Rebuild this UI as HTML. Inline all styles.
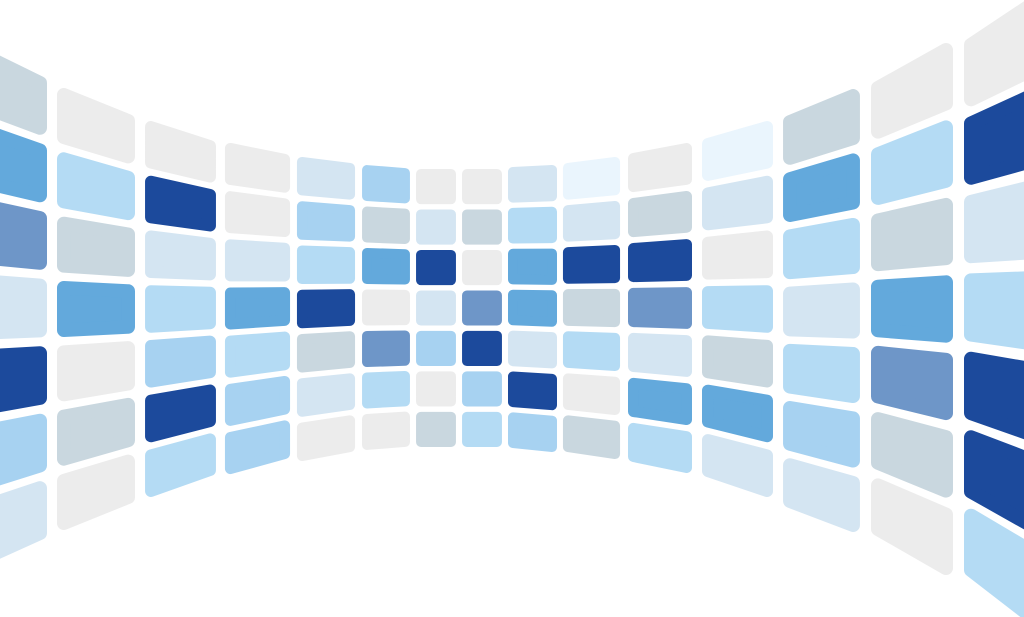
<!DOCTYPE html>
<html><head><meta charset="utf-8"><style>html,body{margin:0;padding:0;background:#fff;width:1024px;height:617px;overflow:hidden}</style></head>
<body>
<svg id="wall" width="1024" height="617" viewBox="0 0 1024 617" xmlns="http://www.w3.org/2000/svg"></svg>
<script>
// colour level per tile: columns left→right, rows top→bottom
const palette = ["#ececec","#c9d7df","#d4e5f2","#b4dbf4","#a7d2f1","#63a9dc","#6e96c8","#1c4a9c","#eaf5fd"];
const col0 = [1,5,6,2,7,4,2];
const col1 = [0,3,1,5,0,1,0];
const col2 = [0,7,2,3,4,7,3];
const col3 = [0,0,2,5,3,4,4];
const col4 = [2,4,3,7,1,2,0];
const col5 = [4,1,5,0,6,3,0];
const col6 = [0,2,7,2,4,0,1];
const col7 = [0,1,0,6,7,4,3];
const col8 = [2,3,5,5,2,7,4];
const col9 = [8,2,7,1,3,0,1];
const col10 = [0,1,7,6,2,5,3];
const col11 = [8,2,0,3,1,5,2];
const col12 = [1,5,3,2,3,4,2];
const col13 = [0,3,1,5,6,1,0];
const col14 = [0,7,2,3,7,7,3];
const grid = [col0,col1,col2,col3,col4,col5,col6,col7,col8,col9,col10,col11,col12,col13,col14];
// column geometry: xL, xR, topL, topR, botL, botR
const geom = [
 [-18,47,51,76,563,540],[57,135,88,114,530,504],[145,216,121,140,497,476],
 [225,290,143,154,474,459],[297,355,157,163,461,452],[362,410,165,168,450,447],
 [416,456,169,169,447,447],[462,502,169,169,447,447],[508,557,167,165,448,452],
 [563,620,163,157,452,459],[628,692,153,143,462,473],[702,773,138,121,477,497],
 [783,860,115,89,508,532],[871,953,81,43,536,575],[964,1044,38,-6,577,628]
];
const svg = document.getElementById('wall');
const NS = "http://www.w3.org/2000/svg";
const g = 0.13;
grid.forEach((rows, c) => {
  const [xL,xR,tL,tR,bL,bR] = geom[c];
  const n = rows.length;
  const pL = (bL-tL)/(n-g), pR = (bR-tR)/(n-g);
  rows.forEach((lvl, r) => {
    const y1 = tL + r*pL, y2 = y1 + pL*(1-g);
    const y3 = tR + r*pR, y4 = y3 + pR*(1-g);
    const rad = Math.min(Math.min(pL,pR)*0.12, 7);
    const pts = [[xL+rad,y1+rad],[xR-rad,y3+rad],[xR-rad,y4-rad],[xL+rad,y2-rad]];
    const p = document.createElementNS(NS,'polygon');
    p.setAttribute('points', pts.map(q=>q[0].toFixed(1)+','+q[1].toFixed(1)).join(' '));
    p.setAttribute('fill', palette[lvl]);
    p.setAttribute('stroke', palette[lvl]);
    p.setAttribute('stroke-width', (rad*2).toFixed(1));
    p.setAttribute('stroke-linejoin','round');
    
    
    svg.appendChild(p);
  });
});
</script>
</body></html>
